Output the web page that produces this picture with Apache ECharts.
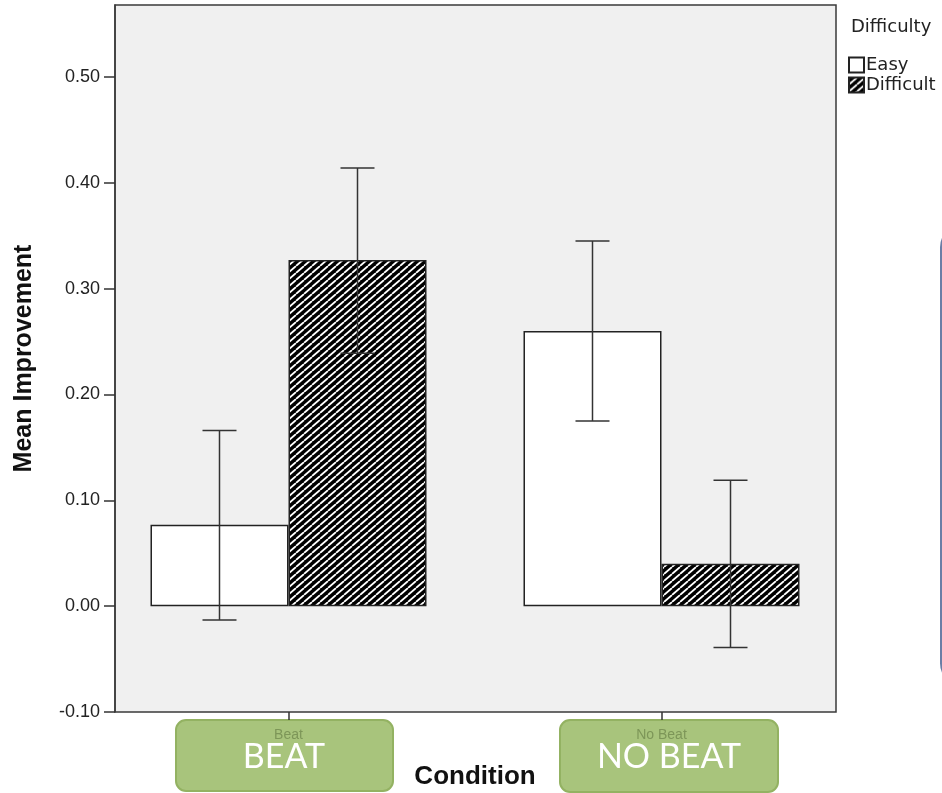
<!DOCTYPE html>
<html>
<head>
<meta charset="utf-8">
<script src="https://cdn.jsdelivr.net/npm/echarts@6/dist/echarts.min.js"></script>
<style>
html,body{margin:0;padding:0;background:#ffffff;}
#chart{width:942px;height:793px;}
</style>
</head>
<body>
<div id="chart"></div>
<script>
// ---- data ----
const categories = ['Beat', 'No Beat'];
const seriesNames = ['Easy', 'Difficult'];
const easyMeans = [0.077, 0.260];
const easyLower = [-0.013, 0.175];
const easyUpper = [0.166, 0.345];
const difficultMeans = [0.327, 0.040];
const difficultLower = [0.239, -0.039];
const difficultUpper = [0.414, 0.119];
const yMin = -0.10;
const yMax = 0.568;
const yInterval = 0.10;
const boxLabels = ['BEAT', 'NO BEAT'];

// diagonal hatch pattern
function makeHatch() {
  const w = 8, h = 7;
  const c = document.createElement('canvas');
  c.width = w; c.height = h;
  const g = c.getContext('2d');
  g.fillStyle = '#000';
  g.fillRect(0, 0, w, h);
  g.strokeStyle = '#fff';
  g.lineWidth = 1.8;
  for (let k = -1; k <= 1; k++) {
    g.beginPath();
    g.moveTo(k * w, h);
    g.lineTo(k * w + w, 0);
    g.stroke();
  }
  return c;
}
const hatch = makeHatch();

const BAR_FRAC = 0.37;

function errorRender(sign) {
  return function (params, api) {
    const band = api.size([1, 0])[0];
    const cx = api.coord([api.value(0), 0])[0] + sign * band * BAR_FRAC / 2;
    const yl = api.coord([api.value(0), api.value(1)])[1];
    const yu = api.coord([api.value(0), api.value(2)])[1];
    const hw = 17;
    const st = { stroke: '#333', lineWidth: 1.5 };
    return {
      type: 'group',
      children: [
        { type: 'line', shape: { x1: cx, y1: yu, x2: cx, y2: yl }, style: st },
        { type: 'line', shape: { x1: cx - hw, y1: yu, x2: cx + hw, y2: yu }, style: st },
        { type: 'line', shape: { x1: cx - hw, y1: yl, x2: cx + hw, y2: yl }, style: st }
      ]
    };
  };
}

const chart = echarts.init(document.getElementById('chart'), null, { renderer: 'canvas' });

const option = {
  animation: false,
  backgroundColor: '#ffffff',
  title: {
    text: 'Difficulty',
    left: 851, top: 18,
    padding: 0,
    textStyle: { fontFamily: 'DejaVu Sans', fontSize: 18, fontWeight: 'normal', color: '#222' }
  },
  legend: {
    data: seriesNames,
    orient: 'vertical',
    left: 848, top: 56,
    padding: 0,
    itemGap: 2,
    itemWidth: 15, itemHeight: 15,
    icon: 'rect',
    textStyle: { fontFamily: 'DejaVu Sans', fontSize: 18, color: '#222', padding: [0, 0, 0, -3] },
    selectedMode: false
  },
  grid: [
    { left: 115, top: 5, width: 721, height: 707, show: true, backgroundColor: '#f0f0f0', borderColor: '#3a3a3a', borderWidth: 1.5, outerBoundsMode: 'none', containLabel: false },
    { left: 102, top: 5, width: 746, height: 707, show: false, outerBoundsMode: 'none', containLabel: false }
  ],
  xAxis: [
    { gridIndex: 0, type: 'category', data: categories, show: false },
    {
      gridIndex: 1, type: 'category', data: categories, z: 10,
      boundaryGap: true,
      axisLine: { show: false, onZero: false },
      axisTick: { show: true, alignWithLabel: true, length: 8, lineStyle: { color: '#333', width: 1.5 } },
      axisLabel: { margin: 16, fontFamily: 'Liberation Sans', fontSize: 14, color: '#7d9658' },
      name: 'Condition', nameLocation: 'middle', nameGap: 52,
      nameTextStyle: { fontFamily: 'Liberation Sans', fontWeight: 'bold', fontSize: 26, color: '#111' }
    }
  ],
  yAxis: [
    {
      gridIndex: 0, type: 'value', min: yMin, max: yMax, interval: yInterval,
      axisLine: { show: true, lineStyle: { color: '#3a3a3a', width: 1.5 } },
      axisTick: { show: true, length: 11, lineStyle: { color: '#333', width: 1.5 } },
      splitLine: { show: false },
      axisLabel: {
        margin: 15, showMaxLabel: false,
        fontFamily: 'Liberation Sans', fontSize: 18, color: '#222',
        formatter: function (v) { return v.toFixed(2); }
      },
      name: 'Mean Improvement', nameLocation: 'middle', nameGap: 78, nameRotate: 90,
      nameTextStyle: { fontFamily: 'Liberation Sans', fontWeight: 'bold', fontSize: 25, color: '#111' }
    },
    { gridIndex: 1, type: 'value', min: yMin, max: yMax, interval: yInterval, show: false }
  ],
  series: [
    {
      name: 'Easy', type: 'bar', xAxisIndex: 1, yAxisIndex: 1,
      barWidth: (BAR_FRAC * 100) + '%', barGap: '0%',
      data: easyMeans,
      itemStyle: { color: '#ffffff', borderColor: '#222', borderWidth: 1.5 },
      z: 3
    },
    {
      name: 'Difficult', type: 'bar', xAxisIndex: 1, yAxisIndex: 1,
      barWidth: (BAR_FRAC * 100) + '%', barGap: '0%',
      data: difficultMeans,
      itemStyle: { color: { image: hatch, repeat: 'repeat' }, borderColor: '#222', borderWidth: 1.5 },
      z: 3
    },
    {
      name: 'Easy error', type: 'custom', xAxisIndex: 1, yAxisIndex: 1, z: 5,
      renderItem: errorRender(-1),
      data: categories.map((c, i) => [i, easyLower[i], easyUpper[i]])
    },
    {
      name: 'Difficult error', type: 'custom', xAxisIndex: 1, yAxisIndex: 1, z: 5,
      renderItem: errorRender(1),
      data: categories.map((c, i) => [i, difficultLower[i], difficultUpper[i]])
    }
  ],
  graphic: [
    {
      type: 'rect', z: 1, left: 175, top: 719,
      shape: { width: 217, height: 71, r: 10 },
      style: { fill: '#a8c47c', stroke: '#93b262', lineWidth: 2 }
    },
    {
      type: 'text', z: 20, x: 284, y: 757,
      style: { text: boxLabels[0], fill: '#ffffff', font: '34px Lato', textAlign: 'center', textVerticalAlign: 'middle' }
    },
    {
      type: 'rect', z: 1, left: 559, top: 719,
      shape: { width: 218, height: 72, r: 10 },
      style: { fill: '#a8c47c', stroke: '#93b262', lineWidth: 2 }
    },
    {
      type: 'text', z: 20, x: 669, y: 757,
      style: { text: boxLabels[1], fill: '#ffffff', font: '34px Lato', textAlign: 'center', textVerticalAlign: 'middle' }
    },
    {
      type: 'rect', z: 1, left: 940, top: 224,
      shape: { width: 120, height: 460, r: 22 },
      style: { fill: '#ffffff', stroke: '#6a7ea6', lineWidth: 2.5 }
    }
  ]
};
chart.setOption(option);
</script>
</body>
</html>
